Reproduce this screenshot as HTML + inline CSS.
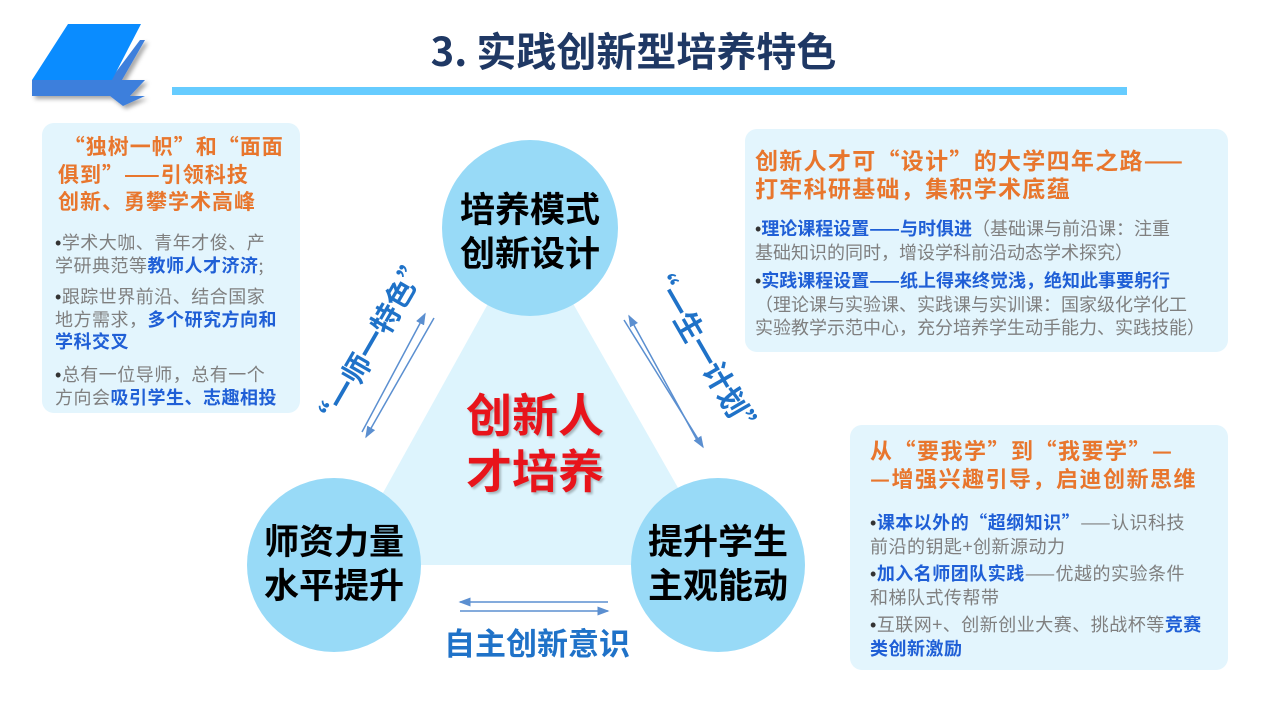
<!DOCTYPE html>
<html><head><meta charset="utf-8"><style>
body{margin:0;width:1267px;height:713px;background:#fff;position:relative;overflow:hidden;font-family:"Noto Sans CJK SC","Liberation Sans",sans-serif}
.box{position:absolute;background:#e3f5fd;border-radius:12px}
.t{position:absolute;font-weight:bold;color:#e8762d;white-space:nowrap}
.p{position:absolute;color:#7f7f7f;white-space:nowrap}
.b{color:#1f5fd6;font-weight:bold}
.d{font-family:"Liberation Sans",sans-serif;color:#333}
.c{position:absolute;font-weight:bold;color:#000;font-size:35px;line-height:44px;text-align:center;white-space:nowrap}
</style></head><body>
<svg width="1267" height="713" style="position:absolute;left:0;top:0">
<defs><marker id="a" markerWidth="8" markerHeight="8" refX="7" refY="4" orient="auto"><path d="M0,1 L8,4 L0,7 Z" fill="#5b8fd0"/></marker>
<filter id="s"><feDropShadow dx="3" dy="3" stdDeviation="2" flood-opacity="0.35"/></filter></defs>
<g filter="url(#s)">
<polygon points="32,80 145,80 130,96 32,96" fill="#3d7fdc"/>
<polygon points="110,80 140,40 145,40 122,80" fill="#3d7fdc"/>
<polygon points="110,96 145,96 123,106" fill="#3d7fdc"/>
</g>
<polygon points="68,24 141,24 112,80 32,80" fill="#0a8cff"/>
<rect x="172" y="87" width="955" height="8" fill="#66ccff"/>
<polygon points="530,228 343,565 722,565" fill="#ddf4fd"/>
<circle cx="530" cy="228" r="88" fill="#98daf7"/>
<circle cx="334" cy="565" r="87" fill="#98daf7"/>
<circle cx="718" cy="565" r="87" fill="#98daf7"/>
<g stroke="#5b8fd0" stroke-width="1.5" fill="none">
<line x1="362" y1="432" x2="425" y2="314" marker-end="url(#a)"/>
<line x1="434" y1="318" x2="366" y2="437" marker-end="url(#a)"/>
<line x1="697" y1="440" x2="629" y2="316" marker-end="url(#a)"/>
<line x1="624" y1="320" x2="703" y2="447" marker-end="url(#a)"/>
<line x1="608" y1="602" x2="460" y2="602" marker-end="url(#a)"/>
<line x1="460" y1="611" x2="608" y2="611" marker-end="url(#a)"/>
</g>
</svg>
<div style="position:absolute;left:0;width:1267px;top:22px;text-align:center;font-size:40px;line-height:54px;font-weight:bold;color:#1f3864">3. 实践创新型培养特色</div>

<div class="box" style="left:42px;top:123px;width:258px;height:290px"></div>
<div class="t" style="left:58px;top:133px;font-size:21px;line-height:27.5px;letter-spacing:1px">&nbsp;“独树一帜”和“面面<br>俱到”——引领科技<br>创新、勇攀学术高峰</div>
<div class="p" style="left:55px;top:231px;font-size:18px;line-height:22px;letter-spacing:0.5px"><span class="d">•</span>学术大咖、青年才俊、产<br>学研典范等<span class="b">教师人才济济</span>;</div>
<div class="p" style="left:55px;top:285px;font-size:18px;line-height:22px;letter-spacing:0.5px"><span class="d">•</span>跟踪世界前沿、结合国家<br>地方需求，<span class="b">多个研究方向和<br>学科交叉</span></div>
<div class="p" style="left:55px;top:363px;font-size:18px;line-height:22px;letter-spacing:0.5px"><span class="d">•</span>总有一位导师，总有一个<br>方向会<span class="b">吸引学生、志趣相投</span></div>

<div class="box" style="left:745px;top:129px;width:483px;height:223px"></div>
<div class="t" style="left:755px;top:145px;font-size:23px;line-height:28px;letter-spacing:1.3px">创新人才可“设计”的大学四年之路——<br>打牢科研基础，集积学术底蕴</div>
<div class="p" style="left:755px;top:217px;font-size:18px;line-height:23px"><span class="d">•</span><span class="b">理论课程设置——与时俱进</span>（基础课与前沿课：注重<br>基础知识的同时，增设学科前沿动态学术探究）</div>
<div class="p" style="left:755px;top:269px;font-size:18px;line-height:23px"><span class="d">•</span><span class="b">实践课程设置——纸上得来终觉浅，绝知此事要躬行</span><br>（理论课与实验课、实践课与实训课：国家级化学化工<br>实验教学示范中心，充分培养学生动手能力、实践技能）</div>

<div class="box" style="left:850px;top:425px;width:378px;height:245px"></div>
<div class="t" style="left:870px;top:436px;font-size:22px;line-height:28px;letter-spacing:1.5px">从“要我学”到“我要学”—<br>—增强兴趣引导，启迪创新思维</div>
<div class="p" style="left:870px;top:511px;font-size:18px;line-height:23px;letter-spacing:0.5px"><span class="d">•</span><span class="b">课本以外的“超纲知识”</span>——认识科技<br>前沿的钥匙+创新源动力</div>
<div class="p" style="left:870px;top:562px;font-size:18px;line-height:23px;letter-spacing:0.5px"><span class="d">•</span><span class="b">加入名师团队实践</span>——优越的实验条件<br>和梯队式传帮带</div>
<div class="p" style="left:870px;top:613px;font-size:18px;line-height:23px;letter-spacing:0.5px"><span class="d">•</span>互联网+、创新创业大赛、挑战杯等<span class="b">竞赛<br>类创新激励</span></div>

<div class="c" style="left:430px;width:200px;top:186px">培养模式<br>创新设计</div>
<div class="c" style="left:234px;width:200px;top:518px">师资力量<br>水平提升</div>
<div class="c" style="left:628px;width:180px;top:518px">提升学生<br>主观能动</div>
<div style="position:absolute;left:435px;width:200px;top:385px;text-align:center;font-size:46px;line-height:56px;font-weight:bold;color:#e8141b;text-shadow:2px 2px 2px rgba(0,0,0,0.25)">创新人<br>才培养</div>
<div style="position:absolute;left:437px;width:200px;top:622px;text-align:center;font-size:31px;line-height:40px;font-weight:bold;color:#1f72c8">自主创新意识</div>
<div style="position:absolute;left:255px;top:325px;width:230px;text-align:center;font-size:29px;line-height:36px;font-weight:bold;color:#1f72c8;transform:rotate(-60deg);white-space:nowrap">“一师一特色”</div>
<div style="position:absolute;left:590px;top:333px;width:230px;text-align:center;font-size:29px;line-height:36px;font-weight:bold;color:#1f72c8;transform:rotate(60deg);white-space:nowrap">“一生一计划”</div>
</body></html>
